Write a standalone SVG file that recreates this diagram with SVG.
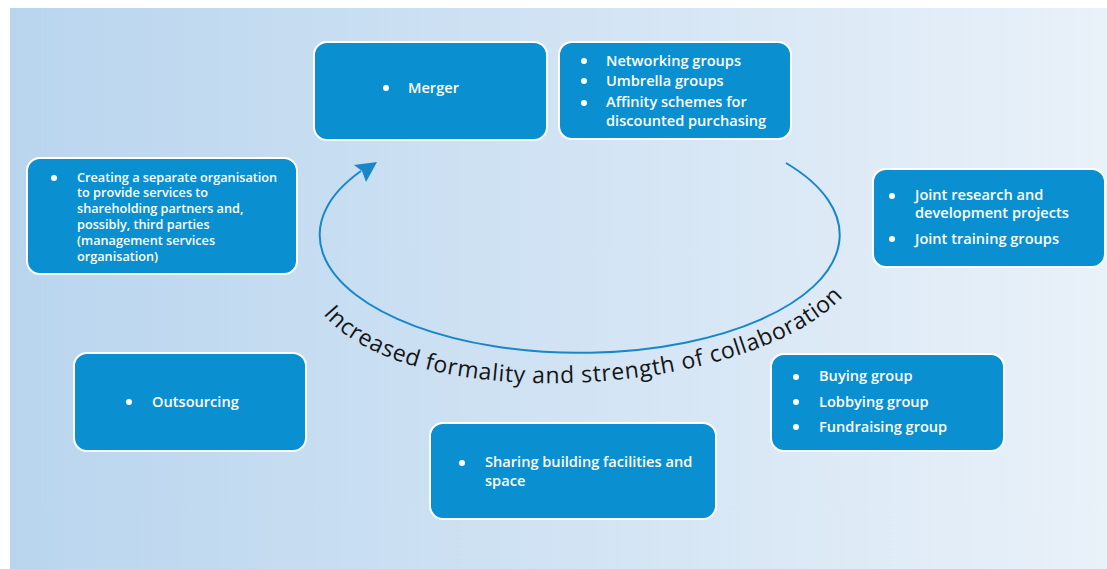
<svg xmlns="http://www.w3.org/2000/svg" width="1107" height="569" viewBox="0 0 1107 569">
<defs>
<linearGradient id="bg" x1="0" y1="0" x2="1" y2="0">
<stop offset="0" stop-color="#b9d5ee"/>
<stop offset="1" stop-color="#e9f1f9"/>
</linearGradient>
<path id="txtpath" d="M 323 314 C 411.3 420.3 759.7 397.3 848 291"/>
</defs>
<style>
.box{fill:#0a90d0;stroke:#ffffff;stroke-width:2}
.t{font-family:"Open Sans","Liberation Sans",sans-serif;font-size:14.6px;font-weight:600;fill:#ffffff}
.ts{font-family:"Open Sans","Liberation Sans",sans-serif;font-size:12.7px;font-weight:600;fill:#ffffff}
.dot{fill:#ffffff}
.arc{fill:none;stroke:#1787c9;stroke-width:2}
.head{fill:#1787c9}
.curve{font-family:"Open Sans","Liberation Sans",sans-serif;font-size:23px;fill:#151515}
</style>
<rect x="0" y="0" width="1107" height="569" fill="#ffffff"/>
<rect x="10" y="8" width="1097" height="561" fill="url(#bg)"/>

<g id="connectors">
<path class="arc" d="M 786 163 A 260 118 0 1 1 361 171"/>
<path class="head" d="M 377 162 L 354 165 L 362 171 L 366 182 Z"/>
</g>

<text class="curve"><textPath href="#txtpath" startOffset="0" textLength="556" lengthAdjust="spacing">Increased formality and strength of collaboration</textPath></text>

<g id="merger">
<rect class="box" x="314" y="42" width="233" height="98" rx="13"/>
<circle class="dot" cx="386" cy="88" r="3"/>
<text class="t" x="408" y="93">Merger</text>
</g>

<g id="networking">
<rect class="box" x="559" y="42" width="232" height="97" rx="13"/>
<circle class="dot" cx="584" cy="61" r="3"/>
<circle class="dot" cx="584" cy="81" r="3"/>
<circle class="dot" cx="584" cy="103" r="3"/>
<text class="t" x="606" y="66">Networking groups</text>
<text class="t" x="606" y="86">Umbrella groups</text>
<text class="t" x="606" y="107">Affinity schemes for</text>
<text class="t" x="606" y="126">discounted purchasing</text>
</g>

<g id="mso">
<rect class="box" x="27" y="158" width="270" height="116" rx="13"/>
<circle class="dot" cx="54" cy="178" r="3"/>
<text class="ts" x="77" y="182">Creating a separate organisation</text>
<text class="ts" x="77" y="197">to provide services to</text>
<text class="ts" x="77" y="213">shareholding partners and,</text>
<text class="ts" x="77" y="229">possibly, third parties</text>
<text class="ts" x="77" y="245">(management services</text>
<text class="ts" x="77" y="261">organisation)</text>
</g>

<g id="joint">
<rect class="box" x="873" y="169" width="232" height="98" rx="13"/>
<circle class="dot" cx="892" cy="196" r="3"/>
<circle class="dot" cx="892" cy="239" r="3"/>
<text class="t" x="915" y="200">Joint research and</text>
<text class="t" x="915" y="218">development projects</text>
<text class="t" x="915" y="244">Joint training groups</text>
</g>

<g id="outsourcing">
<rect class="box" x="74" y="353" width="232" height="98" rx="13"/>
<circle class="dot" cx="129" cy="402" r="3"/>
<text class="t" x="152" y="407">Outsourcing</text>
</g>

<g id="buying">
<rect class="box" x="771" y="354" width="233" height="97" rx="13"/>
<circle class="dot" cx="796" cy="377" r="3"/>
<circle class="dot" cx="796" cy="402" r="3"/>
<circle class="dot" cx="796" cy="427" r="3"/>
<text class="t" x="819" y="381">Buying group</text>
<text class="t" x="819" y="407">Lobbying group</text>
<text class="t" x="819" y="432">Fundraising group</text>
</g>

<g id="sharing">
<rect class="box" x="430" y="423" width="286" height="96" rx="13"/>
<circle class="dot" cx="462" cy="463" r="3"/>
<text class="t" x="485" y="467">Sharing building facilities and</text>
<text class="t" x="485" y="486">space</text>
</g>
</svg>
